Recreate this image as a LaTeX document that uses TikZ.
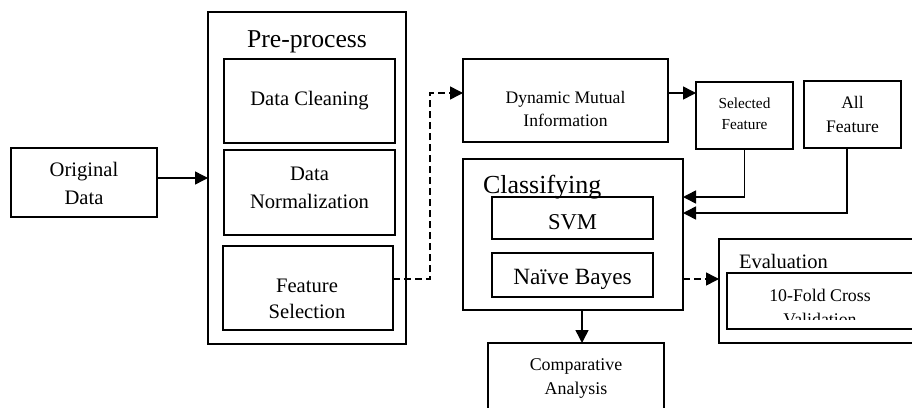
\documentclass[tikz,border=0pt]{standalone}
\usepackage{fontspec}
\setmainfont{Liberation Serif}
\usetikzlibrary{arrows.meta}
\tikzset{
  box/.style={draw, line width=1.1pt, inner sep=0pt, outer sep=0pt},
  txt/.style={anchor=base, inner sep=0pt, outer sep=0pt},
  conn/.style={line width=1.5pt, -{Triangle[length=13pt,width=13pt]}},
  dconn/.style={conn, dash pattern=on 7pt off 4pt},
}
\newcommand\fs[1]{\fontsize{#1}{#1}\selectfont}
\begin{document}
\begin{tikzpicture}[x=1pt,y=-1pt]
\clip (0,0) rectangle (912,407);
\fill[white] (0,0) rectangle (912,407);
% boxes
\node[box, minimum width=146pt, minimum height=69pt] (orig) at (84,182.5) {};
\node[box, minimum width=198pt, minimum height=332pt] (pre) at (307,178) {};
\node[box, minimum width=171pt, minimum height=84pt] (clean) at (309.5,101) {};
\node[box, minimum width=171pt, minimum height=85pt] (norm) at (309.5,192.5) {};
\node[box, minimum width=170pt, minimum height=84pt] (feat) at (308,288) {};
\node[box, minimum width=205pt, minimum height=83pt] (dmi) at (565.5,100.5) {};
\node[box, minimum width=97pt, minimum height=67pt] (sel) at (744.5,115.5) {};
\node[box, minimum width=97pt, minimum height=67pt] (all) at (852.5,114.5) {};
\node[box, minimum width=220pt, minimum height=151pt] (cls) at (573,234.5) {};
\node[box, minimum width=161pt, minimum height=42pt] (svm) at (572.5,218) {};
\node[box, minimum width=161pt, minimum height=44pt] (nb) at (572.5,275) {};
\node[box, minimum width=221pt, minimum height=104pt] (eval) at (829.5,291) {};
\node[box, minimum width=213pt, minimum height=56pt] (cv) at (833.5,301) {};
\node[box, minimum width=176pt, minimum height=97pt] (comp) at (576,391.5) {};
% texts
\node[txt, font=\fs{20.6}] (t1) at (84,176) {Original};
\node[txt, font=\fs{20.6}] (t2) at (84,204) {Data};
\node[txt, font=\fs{25.7}] (t3) at (307,47) {Pre-process};
\node[txt, font=\fs{20.6}] (t4) at (309.5,105) {Data Cleaning};
\node[txt, font=\fs{20.6}] (t5) at (309.5,180) {Data};
\node[txt, font=\fs{20.6}] (t6) at (309.5,208) {Normalization};
\node[txt, font=\fs{20.6}] (t7) at (307,292) {Feature};
\node[txt, font=\fs{20.6}] (t8) at (307,318) {Selection};
\node[txt, font=\fs{17.6}] (t9) at (565.5,103) {Dynamic Mutual};
\node[txt, font=\fs{17.6}] (t10) at (565.5,126) {Information};
\node[txt, font=\fs{15.3}] (t11) at (744.5,108) {Selected};
\node[txt, font=\fs{15.3}] (t12) at (744.5,129) {Feature};
\node[txt, font=\fs{17.6}] (t13) at (852.5,108) {All};
\node[txt, font=\fs{17.6}] (t14) at (852.5,132) {Feature};
\node[txt, font=\fs{26}, anchor=base west] (t15) at (483,193) {Classifying};
\node[txt, font=\fs{22.6}] (t16) at (572.5,229) {SVM};
\node[txt, font=\fs{23.3}] (t17) at (572.5,284) {Naïve Bayes};
\node[txt, font=\fs{20.5}, anchor=base west] (t18) at (739,268) {Evaluation};
\node[txt, font=\fs{17.8}] (t19) at (820,301) {10-Fold Cross};
\begin{scope}
\clip (700,300) rectangle (912,319.5);
\node[txt, font=\fs{17.8}] (t20) at (820,325) {Validation};
\end{scope}
\node[txt, font=\fs{17.9}] (t21) at (576,370) {Comparative};
\node[txt, font=\fs{17.9}] (t22) at (576,394) {Analysis};
% connectors
\draw[conn] (orig.east |- pre.west) -- (pre.west);
\coordinate (d0) at ([yshift=9pt]feat.east);
\coordinate (d1) at ([yshift=7.5pt]dmi.west);
\draw[dconn] (d0) -- ++(37,0) |- (d1);
\coordinate (a1) at ([yshift=7.5pt]dmi.east);
\draw[conn] (a1) -- (a1 -| sel.west);
\coordinate (a2) at ([yshift=37.5pt]cls.east);
\draw[conn] (sel.south) |- (a2);
\coordinate (a3) at ([yshift=21.5pt]cls.east);
\draw[conn] ([xshift=-5.5pt]all.south) |- (a3);
\coordinate (a4) at ([yshift=-44.5pt]cls.east);
\draw[dconn] (a4) -- (a4 -| eval.west);
\coordinate (a5) at ([xshift=9pt]cls.south);
\draw[conn] (a5) -- (a5 |- comp.north);
\end{tikzpicture}
\end{document}
